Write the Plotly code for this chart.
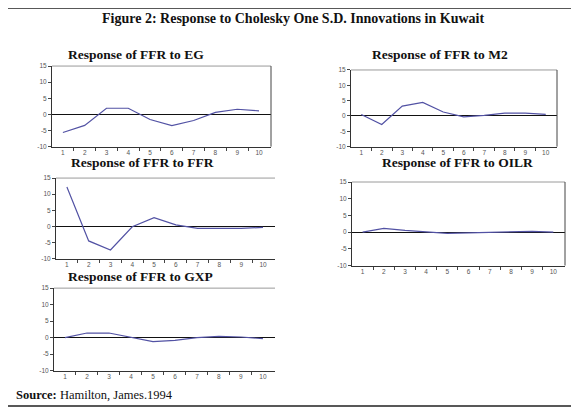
import plotly.graph_objects as go

# Target canvas and the browser's default 8px body margin (compensated below)
W, H = 579, 412
OFF = 8
FW, FH = W - OFF, H - OFF

periods = [1, 2, 3, 4, 5, 6, 7, 8, 9, 10]
resp_eg = [-5.6, -3.4, 1.9, 1.9, -1.6, -3.5, -1.9, 0.6, 1.6, 1.1]
resp_m2 = [0.5, -2.8, 3.2, 4.4, 1.3, -0.3, 0.2, 0.9, 0.9, 0.5]
resp_ffr = [12.2, -4.5, -7.3, -0.1, 2.7, 0.5, -0.6, -0.7, -0.6, -0.3]
resp_oilr = [0.0, 1.1, 0.5, 0.1, -0.4, -0.2, 0.0, 0.2, 0.2, 0.0]
resp_gxp = [0.0, 1.4, 1.4, 0.2, -1.2, -0.8, 0.0, 0.4, 0.2, -0.3]

y_ticks = [15, 10, 5, 0, -5, -10]
y_tick_labels = ["15", "10", "5", "0", "-5", "-10"]

titles = ["Response of FFR to EG", "Response of FFR to M2", "Response of FFR to FFR",
          "Response of FFR to OILR", "Response of FFR to GXP"]
series = [resp_eg, resp_m2, resp_ffr, resp_oilr, resp_gxp]
right_border = [True, True, False, True, False]


def px(x):
    return (x - OFF) / FW


def py(y):
    return 1 - (y - OFF) / FH


# pixel boxes on the 579x412 page: left, right, top, bottom, title x-centre, title y
boxes = [
    (52, 271, 63, 145, 136, 51),
    (351, 557, 67, 145, 440, 51),
    (56, 275, 177, 259, 142, 161),
    (352, 565, 181, 266, 457, 161),
    (54, 275, 289, 373, 140, 277),
]

fig = go.Figure()
LINE = "#5252a4"
annotations = []
shapes = [dict(type="rect", xref="paper", yref="paper", x0=px(4), x1=px(575),
               y0=py(409), y1=py(4), line=dict(color="#222", width=1.5))]
for i, (ys, (l, r, t, b, tx, ty)) in enumerate(zip(series, boxes)):
    n = i + 1
    xa = "x" if n == 1 else f"x{n}"
    ya = "y" if n == 1 else f"y{n}"
    fig.add_trace(go.Scatter(x=periods, y=ys, mode="lines",
                             line=dict(color=LINE, width=1.2),
                             xaxis=xa, yaxis=ya, showlegend=False, hoverinfo="skip"))
    xkey = "xaxis" if n == 1 else f"xaxis{n}"
    ykey = "yaxis" if n == 1 else f"yaxis{n}"
    fig.layout[xkey] = dict(
        domain=[px(l), px(r)], anchor=ya, range=[0.5, 10.55],
        tickvals=periods, ticktext=[str(p) for p in periods],
        ticks="", showgrid=False, zeroline=False,
        showline=True, mirror=False, linecolor="#333", linewidth=1,
        tickfont=dict(family="Liberation Sans", size=6.5, color="#555"),
        minor=dict(tickvals=[p + 0.5 for p in periods[:-1]], ticks="outside",
                   ticklen=3, tickcolor="#444", tickwidth=1),
        fixedrange=True,
    )
    fig.layout[ykey] = dict(
        domain=[py(b), py(t)], anchor=xa, range=[-10, 15],
        tickvals=y_ticks, ticktext=y_tick_labels,
        ticks="outside", ticklen=3, tickcolor="#444", tickwidth=1,
        showgrid=False, zeroline=True, zerolinecolor="#111", zerolinewidth=1,
        showline=True, mirror=False, linecolor="#333", linewidth=1,
        tickfont=dict(family="Liberation Sans", size=6.5, color="#555"),
        fixedrange=True,
    )
    # top frame (light grey) and right frame (dark, where visible)
    shapes.append(dict(type="line", xref=f"{xa} domain", yref=f"{ya} domain",
                       x0=0, x1=1, y0=1, y1=1, line=dict(color="#9a9a9a", width=1)))
    if right_border[i]:
        shapes.append(dict(type="line", xref=f"{xa} domain", yref=f"{ya} domain",
                           x0=1, x1=1, y0=0, y1=1, line=dict(color="#444", width=1)))
    annotations.append(dict(text=f"<b>{titles[i]}</b>", x=px(tx), y=py(ty),
                            xref="paper", yref="paper", showarrow=False,
                            xanchor="center", yanchor="middle",
                            font=dict(family="Liberation Serif", size=13.5, color="#111")))

annotations.append(dict(text="<b>Figure 2: Response to Cholesky One S.D. Innovations in Kuwait</b>",
                        x=px(293), y=py(15), xref="paper", yref="paper", showarrow=False,
                        xanchor="center", yanchor="middle",
                        font=dict(family="Liberation Serif", size=14, color="#111")))
annotations.append(dict(text="<b>Source:</b> Hamilton, James.1994",
                        x=px(14), y=py(398), xref="paper", yref="paper", showarrow=False,
                        xanchor="left", yanchor="middle",
                        font=dict(family="Liberation Serif", size=12.5, color="#111")))

fig.update_layout(
    width=FW, height=FH, margin=dict(l=0, r=0, t=0, b=0),
    paper_bgcolor="white", plot_bgcolor="white",
    annotations=annotations,
    shapes=shapes,
)

fig.write_html("out.html")
